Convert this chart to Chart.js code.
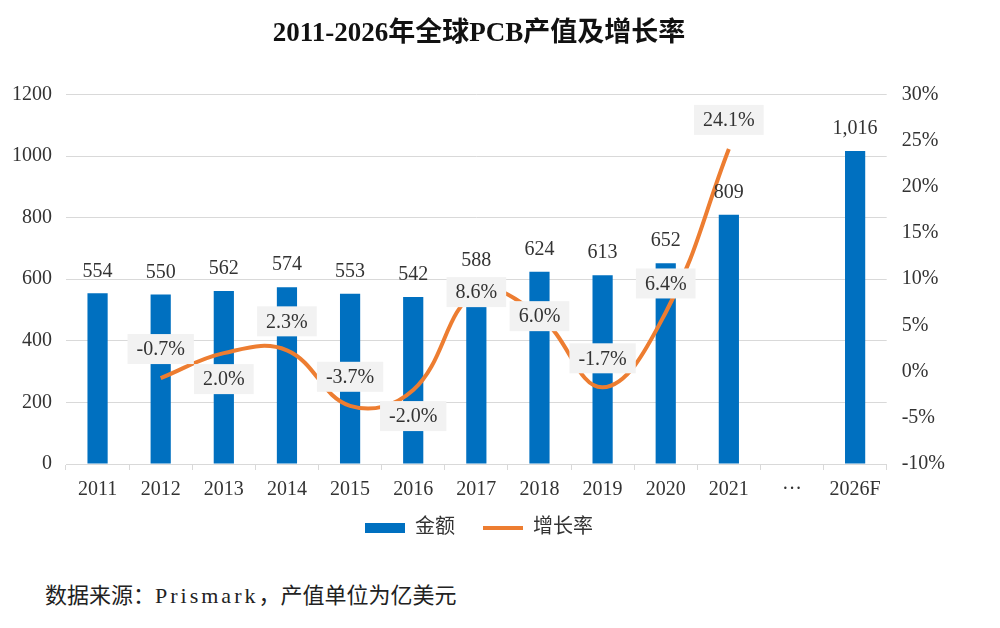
<!DOCTYPE html>
<html>
<head>
<meta charset="utf-8">
<script src="https://cdn.jsdelivr.net/npm/chart.js@4.4.1/dist/chart.umd.min.js"></script>
<style>
  html, body { margin: 0; padding: 0; background: #fff; }
  #wrap { position: relative; width: 1000px; height: 628px; }
  #box { position: absolute; left: 0; top: 0; width: 1000px; height: 560px; }
  #source {
    position: absolute; left: 45px; top: 577px;
    font: 22px 'Liberation Serif', 'Noto Sans CJK SC', serif; color: #222;
  }
  #source span { letter-spacing: 3px; }
</style>
</head>
<body>
<div id="wrap">
  <div id="box"><canvas id="pcbChart"></canvas></div>
  <div id="source">数据来源：<span>Prismark</span>，产值单位为亿美元</div>
</div>
<script>
const years = ['2011', '2012', '2013', '2014', '2015', '2016', '2017', '2018', '2019', '2020', '2021', '···', '2026F'];
const amounts = [554, 550, 562, 574, 553, 542, 588, 624, 613, 652, 809, null, 1016];
const growth = [null, -0.7, 2.0, 2.3, -3.7, -2.0, 8.6, 6.0, -1.7, 6.4, 24.1, null, null];
const growthLabelPos = [null, 'above', 'below', 'above', 'above', 'below', 'center', 'center', 'above', 'above', 'above', null, null];

const FONT = "'Liberation Serif', 'Noto Sans CJK SC', serif";
const BLUE = '#0070C0';
const ORANGE = '#ED7D31';

// value labels for bars and boxed labels for the growth line
const labelPlugin = {
    id: 'labels',
    afterDatasetsDraw(chart) {
        const c = chart.ctx;
        c.save();
        c.font = '20px ' + FONT;
        c.textAlign = 'center';
        c.textBaseline = 'middle';
        c.fillStyle = '#333';

        chart.getDatasetMeta(0).data.forEach((bar, i) => {
            if (amounts[i] == null) return;
            c.fillText(amounts[i].toLocaleString('en-US'), bar.x, bar.y - 22);
        });

        chart.getDatasetMeta(1).data.forEach((pt, i) => {
            if (growth[i] == null) return;
            const txt = growth[i].toFixed(1) + '%';
            let y = pt.y;
            if (growthLabelPos[i] === 'above') y -= 29;
            if (growthLabelPos[i] === 'below') y += 26;
            const w = c.measureText(txt).width + 18;
            const h = 30;
            c.fillStyle = '#F2F2F2';
            c.fillRect(pt.x - w / 2, y - h / 2, w, h);
            c.fillStyle = '#333';
            c.fillText(txt, pt.x, y + 1);
        });
        c.restore();
    }
};

const ctx = document.getElementById('pcbChart').getContext('2d');

new Chart(ctx, {
    type: 'bar',
    data: {
        labels: years,
        datasets: [{
            type: 'bar',
            label: '金额',
            data: amounts,
            backgroundColor: BLUE,
            yAxisID: 'y',
            barPercentage: 0.64,
            categoryPercentage: 0.5,
            order: 2
        }, {
            type: 'line',
            label: '增长率',
            data: growth,
            borderColor: ORANGE,
            backgroundColor: ORANGE,
            borderWidth: 4,
            pointRadius: 0,
            tension: 0.4,
            yAxisID: 'y1',
            order: 1
        }]
    },
    plugins: [labelPlugin],
    options: {
        responsive: true,
        maintainAspectRatio: false,
        animation: false,
        layout: { padding: { left: -2, right: 40, top: 0, bottom: 12 } },
        scales: {
            x: {
                grid: { drawOnChartArea: false, drawTicks: true, tickLength: 6, color: '#D9D9D9' },
                border: { display: true, color: '#D9D9D9' },
                ticks: { font: { size: 20, family: FONT }, color: '#333', padding: 8 }
            },
            y: {
                position: 'left',
                min: 0,
                max: 1200,
                ticks: { stepSize: 200, font: { size: 20, family: FONT }, color: '#333', padding: 14,
                    callback: v => String(v) },
                grid: { color: '#D9D9D9', drawTicks: false },
                border: { display: false }
            },
            y1: {
                position: 'right',
                min: -10,
                max: 30,
                ticks: { stepSize: 5, font: { size: 20, family: FONT }, color: '#333', padding: 15,
                    callback: v => v + '%' },
                grid: { drawOnChartArea: false, drawTicks: false },
                border: { display: false }
            }
        },
        plugins: {
            title: {
                display: true,
                text: '2011-2026年全球PCB产值及增长率',
                font: { size: 27, weight: 'bold', family: FONT },
                color: '#111',
                padding: { top: 18, bottom: 44 }
            },
            legend: {
                position: 'bottom',
                labels: {
                    usePointStyle: true,
                    pointStyleWidth: 40,
                    boxHeight: 10,
                    padding: 8,
                    color: '#333',
                    font: { size: 20, family: FONT },
                    generateLabels: chart => chart.data.datasets.map((ds, i) => ({
                        // em space widens the gap between the two legend items
                        text: ds.label + (i === 0 ? '\u2003' : ''),
                        datasetIndex: i,
                        fillStyle: ds.backgroundColor,
                        strokeStyle: ds.type === 'line' ? ORANGE : BLUE,
                        lineWidth: ds.type === 'line' ? 4 : 0,
                        pointStyle: ds.type === 'line' ? 'line' : 'rect',
                        fontColor: '#333'
                    }))
                }
            },
            tooltip: { enabled: false }
        }
    }
});
</script>
</body>
</html>
